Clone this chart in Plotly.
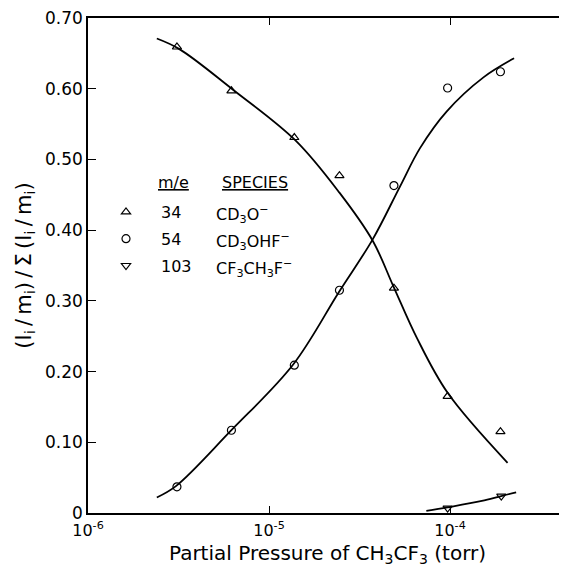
import plotly.graph_objects as go

# ---- data ----
pressure = [3.1e-6, 6.2e-6, 1.38e-5, 2.45e-5, 4.9e-5, 9.7e-5, 1.9e-4]
cd3o = [0.659, 0.597, 0.531, 0.477, 0.318, 0.165, 0.115]
cd3ohf = [0.037, 0.117, 0.209, 0.315, 0.463, 0.601, 0.624]
cf3_pressure = [9.7e-5, 1.92e-4]
cf3 = [0.007, 0.024]

# hand-drawn fitted curves
cd3o_fit_p = [2.4e-6, 3.2e-6, 6.3e-6, 1.4e-5, 2.45e-5, 3.74e-5, 4.86e-5, 6.55e-5, 9.7e-5, 2.08e-4]
cd3o_fit = [0.671, 0.656, 0.599, 0.527, 0.453, 0.385, 0.321, 0.248, 0.170, 0.071]
cd3ohf_fit_p = [2.4e-6, 3.06e-6, 6.14e-6, 1.36e-5, 2.44e-5, 3.74e-5, 5.3e-5, 6.83e-5, 9.6e-5, 1.53e-4, 2.26e-4]
cd3ohf_fit = [0.022, 0.038, 0.116, 0.210, 0.313, 0.387, 0.462, 0.516, 0.568, 0.616, 0.643]
cf3_fit_p = [7.4e-5, 9.7e-5, 1.5e-4, 1.92e-4, 2.32e-4]
cf3_fit = [0.003, 0.008, 0.017, 0.024, 0.029]

me_labels = ["34", "54", "103"]
species = ["CD<sub>3</sub>O<sup>\u2212</sup>", "CD<sub>3</sub>OHF<sup>\u2212</sup>",
           "CF<sub>3</sub>CH<sub>3</sub>F<sup>\u2212</sup>"]
symbols = ["triangle-up-open", "circle-open", "triangle-down-open"]

y_ticks = [0, 0.1, 0.2, 0.3, 0.4, 0.5, 0.6, 0.7]
y_ticktext = ["0", "0.10", "0.20", "0.30", "0.40", "0.50", "0.60", "0.70"]
x_ticks = [1e-6, 1e-5, 1e-4]
x_ticktext = ["10<sup>-6</sup>", "10<sup>-5</sup>", "10<sup>-4</sup>"]

FONT = "DejaVu Sans"
fig = go.Figure()

line_style = dict(color="black", width=1.8, shape="spline", smoothing=1.0)
for px, py in [(cd3o_fit_p, cd3o_fit), (cd3ohf_fit_p, cd3ohf_fit), (cf3_fit_p, cf3_fit)]:
    fig.add_trace(go.Scatter(x=px, y=py, mode="lines", line=line_style,
                             showlegend=False, hoverinfo="skip"))

for xs, ys, sym, lab in [(pressure, cd3o, symbols[0], me_labels[0]),
                         (pressure, cd3ohf, symbols[1], me_labels[1]),
                         (cf3_pressure, cf3, symbols[2], me_labels[2])]:
    fig.add_trace(go.Scatter(x=xs, y=ys, mode="markers", name=lab, legendgroup=lab,
                             marker=dict(symbol=sym, size=8, color="black",
                                         line=dict(color="black", width=1.2))))

# plot area in page pixels (page has an 8px body margin)
x0, x1 = 88, 567
y0, y1 = 18, 513
def px2paper(px, py):
    return (px - x0) / (x1 - x0), (y1 - py) / (y1 - y0)

txt_font = dict(size=16, family=FONT, color="black")
annotations = []
for label, cx in [("<u>m/e</u>", 173), ("<u>SPECIES</u>", 255)]:
    hx, hy = px2paper(cx, 182)
    annotations.append(dict(x=hx, y=hy, xref="paper", yref="paper", text=label,
                            xanchor="center", yanchor="middle", showarrow=False,
                            font=txt_font))
for i, sp in enumerate(species):
    sx, sy = px2paper(214, [214, 241, 268][i])
    annotations.append(dict(x=sx, y=sy, xref="paper", yref="paper", text=sp,
                            xanchor="left", yanchor="middle", showarrow=False,
                            font=txt_font))

lx, ly = px2paper(91, 195)
fig.update_layout(
    width=559, height=559,
    margin=dict(l=80, r=0, t=10, b=54),
    paper_bgcolor="white", plot_bgcolor="white",
    font=dict(family=FONT, color="black", size=16),
    showlegend=True,
    legend=dict(x=lx, y=ly, xanchor="left", yanchor="top", bgcolor="rgba(0,0,0,0)",
                font=dict(size=16, family=FONT), traceorder="grouped",
                tracegroupgap=3, itemwidth=60),
    annotations=annotations,
    xaxis=dict(type="log", range=[-6, -6 + 479 / 181], showline=True, linecolor="black",
               linewidth=1.5, mirror="ticks", ticks="inside", ticklen=7, tickwidth=1.3,
               tickcolor="black", tickvals=x_ticks, ticktext=x_ticktext, showgrid=False,
               zeroline=False, tickfont=dict(size=16), automargin=False,
               ticklabeloverflow="allow", ticklabelstandoff=2,
               title=dict(text="Partial Pressure of CH<sub>3</sub>CF<sub>3</sub> (torr)",
                          font=dict(size=20), standoff=12)),
    yaxis=dict(range=[0, 0.70], showline=True, linecolor="black", linewidth=1.5,
               mirror="ticks",
               ticks="inside", ticklen=8, tickwidth=1.3, tickcolor="black",
               tickvals=y_ticks, ticktext=y_ticktext, showgrid=False, zeroline=False,
               tickfont=dict(size=17), automargin=False, ticklabeloverflow="allow",
               title=dict(text="(I<sub>i</sub>\u2009/\u2009m<sub>i</sub>)\u2009/\u2009\u03a3\u2009(I<sub>i</sub>\u2009/\u2009m<sub>i</sub>)",
                          font=dict(size=21), standoff=8)),
)

fig.write_html("out.html")
